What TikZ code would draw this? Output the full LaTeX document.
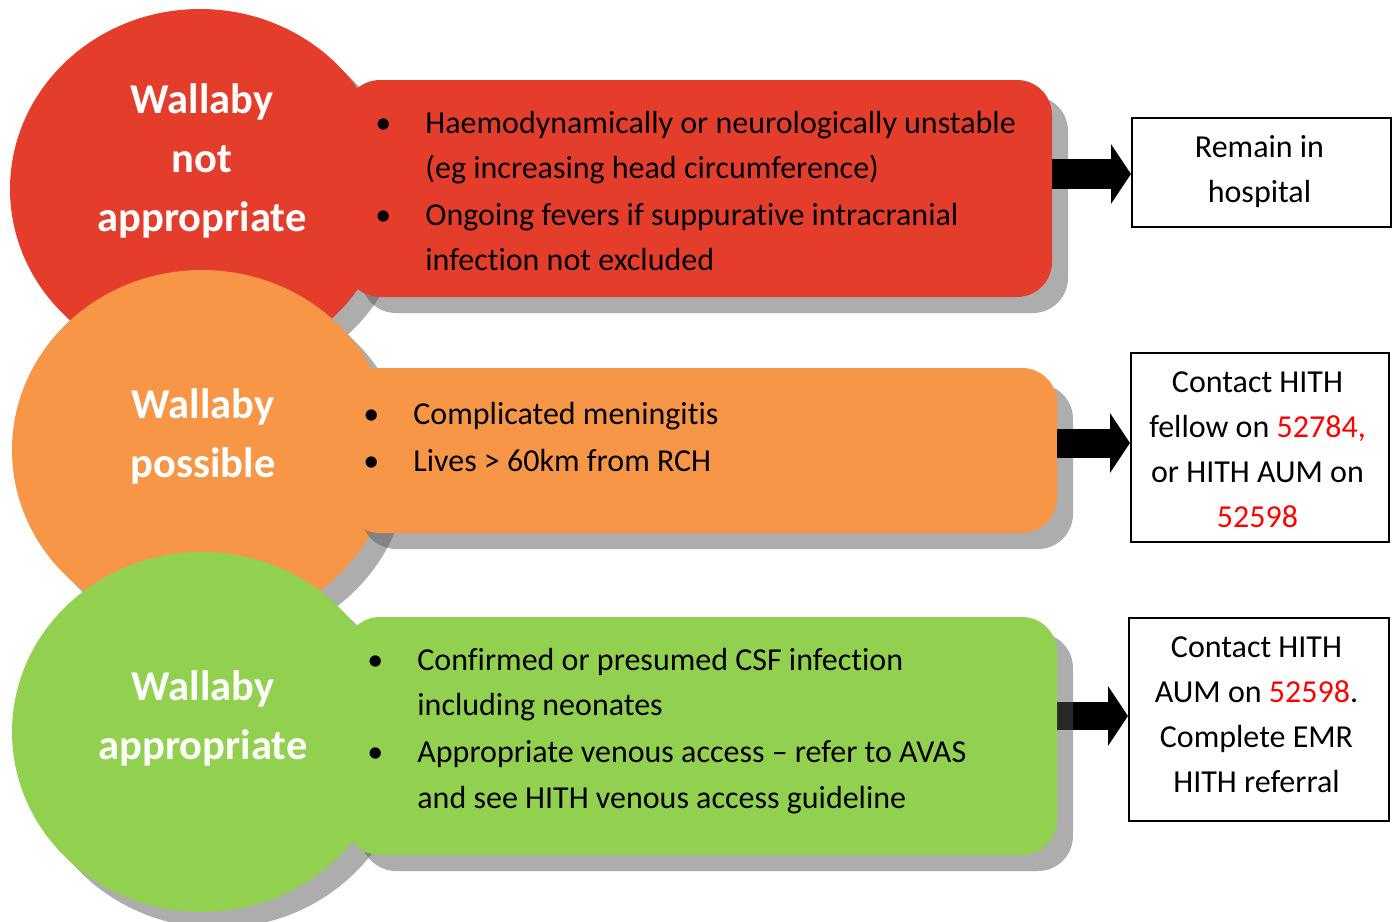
\documentclass[tikz,border=0pt]{standalone}
\usepackage{fontspec}
\setmainfont{Carlito}[Ligatures=NoCommon]
\usetikzlibrary{shapes.geometric,shadows,arrows.meta}
\definecolor{redc}{RGB}{229,61,43}
\definecolor{orangec}{RGB}{247,150,70}
\definecolor{greenc}{RGB}{146,208,80}
\definecolor{shadowc}{RGB}{84,84,84}
\definecolor{numred}{RGB}{255,0,0}
\pgfdeclarelayer{bg}
\pgfsetlayers{bg,main}
\newcommand{\bul}{\makebox[25pt][l]{•}}
\newcommand{\ind}{\hspace*{25pt}}
\tikzset{
  shad/.style={drop shadow={shadow xshift=8pt, shadow yshift=-8pt, fill=shadowc, opacity=0.48}},
  blob/.style={ellipse, minimum width=190pt, minimum height=180pt, inner sep=0pt, draw=none, shad},
  band/.style={rectangle, rounded corners=17.5pt, inner sep=0pt, draw=none, shad},
  title/.style={font=\fontsize{21.25pt}{29.5pt}\selectfont\bfseries, text=white, align=center, inner sep=0pt},
  body/.style={font=\fontsize{16pt}{22.6pt}\selectfont, align=left, inner sep=0pt, anchor=west},
  outbox/.style={draw=black, line width=1pt, fill=white, inner sep=0pt},
  outtext/.style={font=\fontsize{16pt}{22.5pt}\selectfont, align=center, inner sep=0pt},
  bigarrow/.style={line width=#1, -{Triangle[length=10pt,width=29.5pt]}},
}
\begin{document}
\begin{tikzpicture}[x=0.5pt,y=-0.5pt]
\useasboundingbox (0,0) rectangle (1394,922);
\begin{pgfonlayer}{bg}
\fill[white] (0,0) rectangle (1394,922);
\end{pgfonlayer}
% row 1
\node[blob, fill=redc] (c1) at (200,189) {};
\node[band, fill=redc, minimum width=353.5pt, minimum height=108.5pt] (b1) at (698.5,188.5) {};
\node[title] (t1) at (202,160.5) {Wallaby\\not\\appropriate};
\node[body] (l1) at (375,191) {\bul Haemodynamically or neurologically unstable\\
\ind (eg increasing head circumference)\\[0.5pt]
\bul Ongoing fevers if suppurative intracranial\\
\ind infection not excluded};
% row 2
\node[blob, fill=orangec] (c2) at (202,450) {};
\node[band, fill=orangec, minimum width=356pt, minimum height=82.5pt] (b2) at (701,450.5) {};
\node[title] (t2) at (203,436.5) {Wallaby\\possible};
\node[body] (l2) at (363,437) {\bul Complicated meningitis\\[0.5pt]
\bul Lives > 60km from RCH};
% row 3
\node[blob, fill=greenc] (c3) at (202,732) {};
\node[band, fill=greenc, minimum width=356pt, minimum height=119pt] (b3) at (701,736) {};
\node[title] (t3) at (203,718.5) {Wallaby\\appropriate};
\node[body] (l3) at (367,731) {\bul Confirmed or presumed CSF infection\\
\ind including neonates\\[1pt]
\bul Appropriate venous access – refer to AVAS\\
\ind and see HITH venous access guideline};
% outcome boxes
\node[outbox, minimum width=129.5pt, minimum height=54.5pt] (o1) at (1261.5,172.5) {};
\node[outtext] (o1t) at (1259.5,171.5) {Remain in\\hospital};
\node[outbox, minimum width=129pt, minimum height=94.5pt] (o2) at (1260,447.5) {};
\node[outtext] (o2t) at (1257.5,449.5) {Contact HITH\\fellow on \textcolor{numred}{52784,}\\or HITH AUM on\\\textcolor{numred}{52598}};
\node[outbox, minimum width=130pt, minimum height=101.5pt] (o3) at (1259,719.5) {};
\node[outtext] (o3t) at (1256.5,714.5) {Contact HITH\\AUM on \textcolor{numred}{52598}.\\Complete EMR\\HITH referral};
% arrows
\coordinate (y1) at (0,174);
\coordinate (y2) at (0,443);
\coordinate (y3) at (0,716);
\draw[bigarrow=15pt] (b1.east |- y1) -- (o1.west |- y1);
\draw[bigarrow=14.5pt] (b2.east |- y2) -- (o2.west |- y2);
\begin{pgfonlayer}{bg}
\draw[bigarrow=14pt] (b3.east |- y3) -- (o3.west |- y3);
\end{pgfonlayer}
\end{tikzpicture}
\end{document}
